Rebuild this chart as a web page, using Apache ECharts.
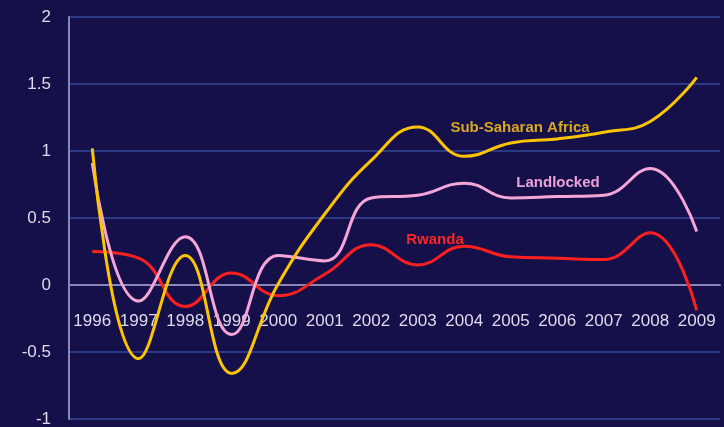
<!DOCTYPE html>
<html>
<head>
<meta charset="utf-8">
<script src="https://cdn.jsdelivr.net/npm/echarts@6/dist/echarts.min.js"></script>
<style>
html,body{margin:0;padding:0;background:#16104a;}
#c{width:724px;height:427px;}
</style>
</head>
<body>
<div id="c"></div>
<script>
var years = ['1996','1997','1998','1999','2000','2001','2002','2003','2004','2005','2006','2007','2008','2009'];
var subSaharanAfrica = [1.02, -0.55, 0.22, -0.66, 0.01, 0.53, 0.93, 1.18, 0.96, 1.06, 1.09, 1.14, 1.22, 1.55];
var landlocked = [0.91, -0.12, 0.36, -0.37, 0.22, 0.18, 0.65, 0.67, 0.76, 0.65, 0.66, 0.67, 0.87, 0.40];
var rwanda = [0.25, 0.20, -0.16, 0.09, -0.08, 0.08, 0.30, 0.15, 0.29, 0.21, 0.20, 0.19, 0.39, -0.19];
var yTicks = {min: -1, max: 2, interval: 0.5};

var chart = echarts.init(document.getElementById('c'));
var fontFam = '"Liberation Sans", Arial, sans-serif';
chart.setOption({
  backgroundColor: '#16104a',
  animation: false,
  grid: {left: 69, right: 4, top: 17, bottom: 8, containLabel: false, outerBoundsMode: 'none'},
  xAxis: {
    type: 'category',
    data: years,
    boundaryGap: true,
    offset: -134,
    axisLine: {onZero: false, lineStyle: {color: '#8a86b8', width: 2}},
    axisTick: {show: false},
    axisLabel: {color: '#dcdcee', fontSize: 17, fontFamily: fontFam, margin: 28, interval: 0},
    splitLine: {show: false}
  },
  yAxis: {
    type: 'value',
    min: yTicks.min, max: yTicks.max, interval: yTicks.interval,
    axisLine: {show: true, lineStyle: {color: '#8a86b8', width: 2}},
    axisTick: {show: false},
    axisLabel: {color: '#dcdcee', fontSize: 17, fontFamily: fontFam, margin: 18},
    splitLine: {show: true, lineStyle: {color: '#2c3a86', width: 2}}
  },
  series: [
    {name: 'Rwanda', type: 'line', data: rwanda, smooth: 0.45, symbol: 'none',
     lineStyle: {color: '#ff1f1f', width: 3}, z: 3},
    {name: 'Landlocked', type: 'line', data: landlocked, smooth: 0.45, symbol: 'none',
     lineStyle: {color: '#f4a6d8', width: 3}, z: 4},
    {name: 'Sub-Saharan Africa', type: 'line', data: subSaharanAfrica, smooth: 0.45, symbol: 'none',
     lineStyle: {color: '#ffc400', width: 3}, z: 5}
  ],
  graphic: [
    {type: 'text', x: 520, y: 128, z: 10, style: {text: 'Sub-Saharan Africa', fill: '#d9a821', font: 'bold 15px ' + fontFam, textAlign: 'center', textVerticalAlign: 'middle'}},
    {type: 'text', x: 558, y: 183, z: 10, style: {text: 'Landlocked', fill: '#eba2d6', font: 'bold 15px ' + fontFam, textAlign: 'center', textVerticalAlign: 'middle'}},
    {type: 'text', x: 435, y: 240, z: 10, style: {text: 'Rwanda', fill: '#ff2424', font: 'bold 15px ' + fontFam, textAlign: 'center', textVerticalAlign: 'middle'}}
  ]
});
</script>
</body>
</html>
